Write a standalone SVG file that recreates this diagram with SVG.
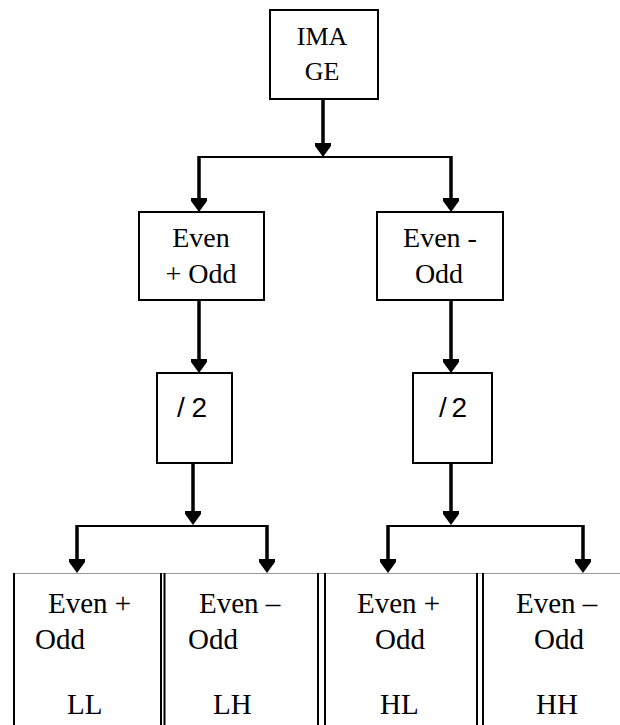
<svg xmlns="http://www.w3.org/2000/svg" xmlns:xlink="http://www.w3.org/1999/xlink" width="620" height="725" viewBox="0 0 620 725">
<style>
.box{fill:#fff;stroke:#000;stroke-width:2}
.t{font-family:"Liberation Serif","Times New Roman",serif;fill:#000}
.s{font-family:"Liberation Sans",Arial,sans-serif;fill:#000}
.v{stroke:#000;stroke-width:3.5;fill:none}
.h{stroke:#000;stroke-width:2;fill:none}
.cell{stroke:#000;stroke-width:2}
.top{stroke:#999;stroke-width:1}
</style>
<defs>
<path id="ah" d="M-8,-14 H8 V-11 L0,0 L-8,-11 Z" fill="#000"/>
</defs>
<rect width="620" height="725" fill="#fff"/>
<g id="connectors">
<line class="v" x1="323" y1="99" x2="323" y2="146"/>
<use xlink:href="#ah" x="323" y="157"/>
<line class="h" x1="199" y1="157" x2="452" y2="157"/>
<line class="v" x1="199" y1="156" x2="199" y2="200"/>
<use xlink:href="#ah" x="199" y="212"/>
<line class="v" x1="451" y1="156" x2="451" y2="200"/>
<use xlink:href="#ah" x="451" y="212"/>
<line class="v" x1="199" y1="300" x2="199" y2="362"/>
<use xlink:href="#ah" x="199" y="373"/>
<line class="v" x1="451" y1="300" x2="451" y2="362"/>
<use xlink:href="#ah" x="451" y="373"/>
<line class="v" x1="193" y1="463" x2="193" y2="514"/>
<use xlink:href="#ah" x="193" y="525"/>
<line class="h" x1="77" y1="526" x2="268" y2="526"/>
<line class="v" x1="77" y1="525" x2="77" y2="562"/>
<use xlink:href="#ah" x="77" y="573"/>
<line class="v" x1="267" y1="525" x2="267" y2="562"/>
<use xlink:href="#ah" x="267" y="573"/>
<line class="v" x1="451" y1="463" x2="451" y2="514"/>
<use xlink:href="#ah" x="451" y="525"/>
<line class="h" x1="388" y1="526" x2="584" y2="526"/>
<line class="v" x1="388" y1="525" x2="388" y2="562"/>
<use xlink:href="#ah" x="388" y="573"/>
<line class="v" x1="583" y1="525" x2="583" y2="562"/>
<use xlink:href="#ah" x="583" y="573"/>
</g>
<g id="image">
<rect class="box" x="270" y="10" width="108" height="89"/>
<text class="t" x="322" y="45" font-size="26" text-anchor="middle">IMA</text>
<text class="t" x="322" y="80" font-size="26" text-anchor="middle">GE</text>
</g>
<g id="even-plus-odd">
<rect class="box" x="139" y="212" width="125" height="88"/>
<text class="t" x="201" y="247" font-size="28" text-anchor="middle">Even</text>
<text class="t" x="201" y="283" font-size="28" text-anchor="middle">+ Odd</text>
</g>
<g id="even-minus-odd">
<rect class="box" x="377" y="212" width="126" height="88"/>
<text class="t" x="440" y="247" font-size="28" text-anchor="middle">Even -</text>
<text class="t" x="439" y="283" font-size="28" text-anchor="middle">Odd</text>
</g>
<g id="div-left">
<rect class="box" x="157" y="373" width="75" height="90"/>
<text class="s" x="192" y="417" font-size="28" text-anchor="middle" textLength="30" lengthAdjust="spacing">/2</text>
</g>
<g id="div-right">
<rect class="box" x="413" y="373" width="79" height="90"/>
<text class="s" x="453" y="417" font-size="28" text-anchor="middle" textLength="28" lengthAdjust="spacing">/2</text>
</g>
<g id="table">
<line class="top" x1="14" y1="573.5" x2="620" y2="573.5"/>
<line class="cell" x1="14" y1="573" x2="14" y2="725"/>
<line class="cell" x1="161" y1="573" x2="161" y2="725"/>
<line class="cell" x1="164.5" y1="573" x2="164.5" y2="725"/>
<line class="cell" x1="318" y1="573" x2="318" y2="725"/>
<line class="cell" x1="325" y1="573" x2="325" y2="725"/>
<line class="cell" x1="477" y1="573" x2="477" y2="725"/>
<line class="cell" x1="483" y1="573" x2="483" y2="725"/>
</g>
<g id="LL">
<text class="t" x="48" y="613" font-size="29">Even +</text>
<text class="t" x="35" y="649" font-size="29">Odd</text>
<text class="t" x="67" y="714" font-size="29">LL</text>
</g>
<g id="LH">
<text class="t" x="199" y="613" font-size="29">Even –</text>
<text class="t" x="188" y="649" font-size="29">Odd</text>
<text class="t" x="213" y="714" font-size="29">LH</text>
</g>
<g id="HL">
<text class="t" x="357" y="613" font-size="29">Even +</text>
<text class="t" x="375" y="649" font-size="29">Odd</text>
<text class="t" x="380" y="714" font-size="29">HL</text>
</g>
<g id="HH">
<text class="t" x="516" y="613" font-size="29">Even –</text>
<text class="t" x="534" y="649" font-size="29">Odd</text>
<text class="t" x="536" y="714" font-size="29">HH</text>
</g>
</svg>
